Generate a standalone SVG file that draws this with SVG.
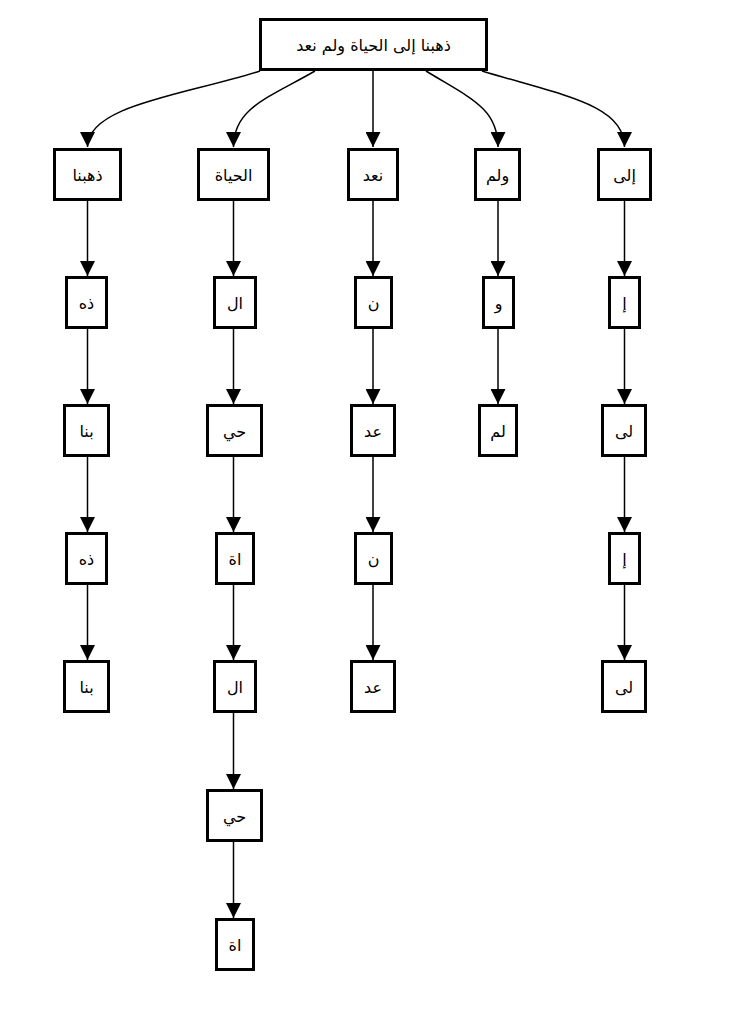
<svg xmlns="http://www.w3.org/2000/svg" width="733" height="1018" viewBox="0 0 733 1018">
<style>
.n rect{fill:#fff;stroke:#000;stroke-width:3}
.n text{font-family:"DejaVu Sans",sans-serif;font-size:16px;fill:#000;text-anchor:middle;dominant-baseline:central}
#edges path{fill:none;stroke:#000;stroke-width:1.5;marker-end:url(#ah)}
</style>
<defs>
<marker id="ah" viewBox="0 0 10 10" refX="10" refY="5" markerUnits="userSpaceOnUse" markerWidth="17" markerHeight="15" orient="auto">
<path d="M0,0 L10,5 L0,10 Z" fill="#000"/>
</marker>
</defs>
<rect width="733" height="1018" fill="#fff"/>
<g id="edges">
<path d="M260,71 C185,95 87.5,105 87.5,147"/>
<path d="M315,71 C268,98 233.5,108 233.5,147"/>
<path d="M373,71 L373,147"/>
<path d="M426,71 C470,98 498,108 498,147"/>
<path d="M482,71 C565,96 624.5,105 624.5,147"/>
<path d="M87.5,201 L87.5,276"/>
<path d="M87.5,329 L87.5,404"/>
<path d="M87.5,457 L87.5,532"/>
<path d="M87.5,585 L87.5,660"/>
<path d="M233.5,201 L233.5,276"/>
<path d="M233.5,329 L233.5,404"/>
<path d="M233.5,457 L233.5,532"/>
<path d="M233.5,585 L233.5,660"/>
<path d="M233.5,713 L233.5,789"/>
<path d="M233.5,842 L233.5,918"/>
<path d="M373,201 L373,276"/>
<path d="M373,329 L373,404"/>
<path d="M373,457 L373,532"/>
<path d="M373,585 L373,660"/>
<path d="M498,201 L498,276"/>
<path d="M498,329 L498,404"/>
<path d="M624.5,201 L624.5,276"/>
<path d="M624.5,329 L624.5,404"/>
<path d="M624.5,457 L624.5,532"/>
<path d="M624.5,585 L624.5,660"/>
</g>
<g id="root" class="n"><rect x="260.5" y="19.5" width="226" height="50"/><text x="373.5" y="45">ذهبنا إلى الحياة ولم نعد</text></g>
<g id="c1r1" class="n"><rect x="54.5" y="149.5" width="66" height="50"/><text x="87.5" y="175">ذهبنا</text></g>
<g id="c1r2" class="n"><rect x="66.5" y="277.5" width="40" height="50"/><text x="86.5" y="303">ذه</text></g>
<g id="c1r3" class="n"><rect x="64.5" y="405.5" width="44" height="50"/><text x="86.5" y="431">بنا</text></g>
<g id="c1r4" class="n"><rect x="66.5" y="533.5" width="40" height="50"/><text x="86.5" y="559">ذه</text></g>
<g id="c1r5" class="n"><rect x="64.5" y="661.5" width="44" height="50"/><text x="86.5" y="687">بنا</text></g>
<g id="c2r1" class="n"><rect x="198.5" y="149.5" width="70" height="50"/><text x="233.5" y="175">الحياة</text></g>
<g id="c2r2" class="n"><rect x="214.5" y="277.5" width="41" height="50"/><text x="235" y="303">ال</text></g>
<g id="c2r3" class="n"><rect x="207.5" y="405.5" width="54" height="50"/><text x="234.5" y="431">حي</text></g>
<g id="c2r4" class="n"><rect x="216.5" y="533.5" width="37" height="50"/><text x="235" y="559">اة</text></g>
<g id="c2r5" class="n"><rect x="214.5" y="661.5" width="41" height="50"/><text x="235" y="687">ال</text></g>
<g id="c2r6" class="n"><rect x="207.5" y="790.5" width="54" height="50"/><text x="234.5" y="816">حي</text></g>
<g id="c2r7" class="n"><rect x="216.5" y="919.5" width="37" height="50"/><text x="235" y="945">اة</text></g>
<g id="c3r1" class="n"><rect x="348.5" y="149.5" width="49" height="50"/><text x="373" y="175">نعد</text></g>
<g id="c3r2" class="n"><rect x="355.5" y="277.5" width="36" height="50"/><text x="373.5" y="303">ن</text></g>
<g id="c3r3" class="n"><rect x="351.5" y="405.5" width="43" height="50"/><text x="373" y="431">عد</text></g>
<g id="c3r4" class="n"><rect x="355.5" y="533.5" width="36" height="50"/><text x="373.5" y="559">ن</text></g>
<g id="c3r5" class="n"><rect x="351.5" y="661.5" width="43" height="50"/><text x="373" y="687">عد</text></g>
<g id="c4r1" class="n"><rect x="475.5" y="149.5" width="44" height="50"/><text x="497.5" y="175">ولم</text></g>
<g id="c4r2" class="n"><rect x="483.5" y="277.5" width="30" height="50"/><text x="498.5" y="303">و</text></g>
<g id="c4r3" class="n"><rect x="479.5" y="405.5" width="37" height="50"/><text x="498" y="431">لم</text></g>
<g id="c5r1" class="n"><rect x="598.5" y="149.5" width="52" height="50"/><text x="624.5" y="175">إلى</text></g>
<g id="c5r2" class="n"><rect x="609.5" y="277.5" width="30" height="50"/><text x="624.5" y="303">إ</text></g>
<g id="c5r3" class="n"><rect x="602.5" y="405.5" width="43" height="50"/><text x="624" y="431">لى</text></g>
<g id="c5r4" class="n"><rect x="609.5" y="533.5" width="30" height="50"/><text x="624.5" y="559">إ</text></g>
<g id="c5r5" class="n"><rect x="602.5" y="661.5" width="43" height="50"/><text x="624" y="687">لى</text></g>
</svg>
